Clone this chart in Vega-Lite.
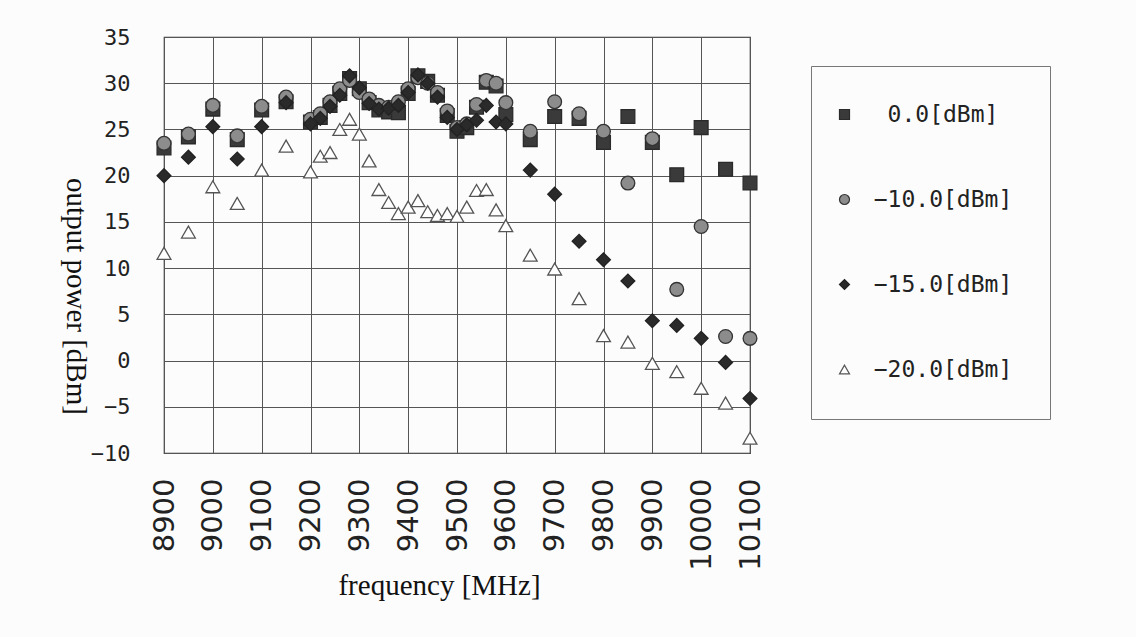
{
  "$schema": "https://vega.github.io/schema/vega-lite/v6.json",
  "width": 586,
  "height": 416,
  "autosize": {"type": "none"},
  "padding": {"left": 164, "top": 37, "right": 386, "bottom": 184},
  "background": "#fcfcfc",
  "data": {
    "values": [
      {"f": 8900, "p": 23.0, "s": "0.0[dBm]"},
      {"f": 8950, "p": 24.2, "s": "0.0[dBm]"},
      {"f": 9000, "p": 27.2, "s": "0.0[dBm]"},
      {"f": 9050, "p": 23.9, "s": "0.0[dBm]"},
      {"f": 9100, "p": 27.1, "s": "0.0[dBm]"},
      {"f": 9150, "p": 28.0, "s": "0.0[dBm]"},
      {"f": 9200, "p": 25.8, "s": "0.0[dBm]"},
      {"f": 9220, "p": 26.3, "s": "0.0[dBm]"},
      {"f": 9240, "p": 27.6, "s": "0.0[dBm]"},
      {"f": 9260, "p": 28.9, "s": "0.0[dBm]"},
      {"f": 9280, "p": 30.5, "s": "0.0[dBm]"},
      {"f": 9300, "p": 29.4, "s": "0.0[dBm]"},
      {"f": 9320, "p": 27.9, "s": "0.0[dBm]"},
      {"f": 9340, "p": 27.1, "s": "0.0[dBm]"},
      {"f": 9360, "p": 26.9, "s": "0.0[dBm]"},
      {"f": 9380, "p": 26.8, "s": "0.0[dBm]"},
      {"f": 9400, "p": 28.9, "s": "0.0[dBm]"},
      {"f": 9420, "p": 30.8, "s": "0.0[dBm]"},
      {"f": 9440, "p": 30.2, "s": "0.0[dBm]"},
      {"f": 9460, "p": 28.7, "s": "0.0[dBm]"},
      {"f": 9480, "p": 26.5, "s": "0.0[dBm]"},
      {"f": 9500, "p": 24.8, "s": "0.0[dBm]"},
      {"f": 9520, "p": 25.2, "s": "0.0[dBm]"},
      {"f": 9540, "p": 27.4, "s": "0.0[dBm]"},
      {"f": 9560, "p": 30.1, "s": "0.0[dBm]"},
      {"f": 9580, "p": 29.7, "s": "0.0[dBm]"},
      {"f": 9600, "p": 26.6, "s": "0.0[dBm]"},
      {"f": 9650, "p": 23.9, "s": "0.0[dBm]"},
      {"f": 9700, "p": 26.4, "s": "0.0[dBm]"},
      {"f": 9750, "p": 26.2, "s": "0.0[dBm]"},
      {"f": 9800, "p": 23.6, "s": "0.0[dBm]"},
      {"f": 9850, "p": 26.4, "s": "0.0[dBm]"},
      {"f": 9900, "p": 23.6, "s": "0.0[dBm]"},
      {"f": 9950, "p": 20.1, "s": "0.0[dBm]"},
      {"f": 10000, "p": 25.2, "s": "0.0[dBm]"},
      {"f": 10050, "p": 20.7, "s": "0.0[dBm]"},
      {"f": 10100, "p": 19.2, "s": "0.0[dBm]"},

      {"f": 8900, "p": 23.5, "s": "−10.0[dBm]"},
      {"f": 8950, "p": 24.5, "s": "−10.0[dBm]"},
      {"f": 9000, "p": 27.6, "s": "−10.0[dBm]"},
      {"f": 9050, "p": 24.3, "s": "−10.0[dBm]"},
      {"f": 9100, "p": 27.5, "s": "−10.0[dBm]"},
      {"f": 9150, "p": 28.5, "s": "−10.0[dBm]"},
      {"f": 9200, "p": 26.1, "s": "−10.0[dBm]"},
      {"f": 9220, "p": 26.7, "s": "−10.0[dBm]"},
      {"f": 9240, "p": 28.0, "s": "−10.0[dBm]"},
      {"f": 9260, "p": 29.4, "s": "−10.0[dBm]"},
      {"f": 9280, "p": 30.3, "s": "−10.0[dBm]"},
      {"f": 9300, "p": 29.0, "s": "−10.0[dBm]"},
      {"f": 9320, "p": 28.3, "s": "−10.0[dBm]"},
      {"f": 9340, "p": 27.6, "s": "−10.0[dBm]"},
      {"f": 9360, "p": 27.4, "s": "−10.0[dBm]"},
      {"f": 9380, "p": 28.0, "s": "−10.0[dBm]"},
      {"f": 9400, "p": 29.4, "s": "−10.0[dBm]"},
      {"f": 9420, "p": 30.6, "s": "−10.0[dBm]"},
      {"f": 9440, "p": 30.0, "s": "−10.0[dBm]"},
      {"f": 9460, "p": 29.0, "s": "−10.0[dBm]"},
      {"f": 9480, "p": 27.0, "s": "−10.0[dBm]"},
      {"f": 9500, "p": 25.2, "s": "−10.0[dBm]"},
      {"f": 9520, "p": 25.6, "s": "−10.0[dBm]"},
      {"f": 9540, "p": 27.7, "s": "−10.0[dBm]"},
      {"f": 9560, "p": 30.3, "s": "−10.0[dBm]"},
      {"f": 9580, "p": 30.0, "s": "−10.0[dBm]"},
      {"f": 9600, "p": 27.9, "s": "−10.0[dBm]"},
      {"f": 9650, "p": 24.8, "s": "−10.0[dBm]"},
      {"f": 9700, "p": 28.0, "s": "−10.0[dBm]"},
      {"f": 9750, "p": 26.7, "s": "−10.0[dBm]"},
      {"f": 9800, "p": 24.8, "s": "−10.0[dBm]"},
      {"f": 9850, "p": 19.2, "s": "−10.0[dBm]"},
      {"f": 9900, "p": 24.0, "s": "−10.0[dBm]"},
      {"f": 9950, "p": 7.7, "s": "−10.0[dBm]"},
      {"f": 10000, "p": 14.5, "s": "−10.0[dBm]"},
      {"f": 10050, "p": 2.6, "s": "−10.0[dBm]"},
      {"f": 10100, "p": 2.4, "s": "−10.0[dBm]"},

      {"f": 8900, "p": 20.0, "s": "−15.0[dBm]"},
      {"f": 8950, "p": 22.0, "s": "−15.0[dBm]"},
      {"f": 9000, "p": 25.3, "s": "−15.0[dBm]"},
      {"f": 9050, "p": 21.8, "s": "−15.0[dBm]"},
      {"f": 9100, "p": 25.3, "s": "−15.0[dBm]"},
      {"f": 9150, "p": 27.9, "s": "−15.0[dBm]"},
      {"f": 9200, "p": 25.6, "s": "−15.0[dBm]"},
      {"f": 9220, "p": 26.2, "s": "−15.0[dBm]"},
      {"f": 9240, "p": 27.5, "s": "−15.0[dBm]"},
      {"f": 9260, "p": 28.7, "s": "−15.0[dBm]"},
      {"f": 9280, "p": 30.8, "s": "−15.0[dBm]"},
      {"f": 9300, "p": 29.5, "s": "−15.0[dBm]"},
      {"f": 9320, "p": 27.8, "s": "−15.0[dBm]"},
      {"f": 9340, "p": 27.2, "s": "−15.0[dBm]"},
      {"f": 9360, "p": 27.3, "s": "−15.0[dBm]"},
      {"f": 9380, "p": 27.6, "s": "−15.0[dBm]"},
      {"f": 9400, "p": 29.0, "s": "−15.0[dBm]"},
      {"f": 9420, "p": 30.9, "s": "−15.0[dBm]"},
      {"f": 9440, "p": 30.0, "s": "−15.0[dBm]"},
      {"f": 9460, "p": 28.5, "s": "−15.0[dBm]"},
      {"f": 9480, "p": 26.3, "s": "−15.0[dBm]"},
      {"f": 9500, "p": 25.0, "s": "−15.0[dBm]"},
      {"f": 9520, "p": 25.5, "s": "−15.0[dBm]"},
      {"f": 9540, "p": 26.0, "s": "−15.0[dBm]"},
      {"f": 9560, "p": 27.6, "s": "−15.0[dBm]"},
      {"f": 9580, "p": 25.8, "s": "−15.0[dBm]"},
      {"f": 9600, "p": 25.6, "s": "−15.0[dBm]"},
      {"f": 9650, "p": 20.6, "s": "−15.0[dBm]"},
      {"f": 9700, "p": 18.0, "s": "−15.0[dBm]"},
      {"f": 9750, "p": 12.9, "s": "−15.0[dBm]"},
      {"f": 9800, "p": 10.9, "s": "−15.0[dBm]"},
      {"f": 9850, "p": 8.6, "s": "−15.0[dBm]"},
      {"f": 9900, "p": 4.3, "s": "−15.0[dBm]"},
      {"f": 9950, "p": 3.8, "s": "−15.0[dBm]"},
      {"f": 10000, "p": 2.4, "s": "−15.0[dBm]"},
      {"f": 10050, "p": -0.2, "s": "−15.0[dBm]"},
      {"f": 10100, "p": -4.1, "s": "−15.0[dBm]"},

      {"f": 8900, "p": 11.6, "s": "−20.0[dBm]"},
      {"f": 8950, "p": 13.9, "s": "−20.0[dBm]"},
      {"f": 9000, "p": 18.8, "s": "−20.0[dBm]"},
      {"f": 9050, "p": 17.0, "s": "−20.0[dBm]"},
      {"f": 9100, "p": 20.6, "s": "−20.0[dBm]"},
      {"f": 9150, "p": 23.2, "s": "−20.0[dBm]"},
      {"f": 9200, "p": 20.4, "s": "−20.0[dBm]"},
      {"f": 9220, "p": 22.1, "s": "−20.0[dBm]"},
      {"f": 9240, "p": 22.5, "s": "−20.0[dBm]"},
      {"f": 9260, "p": 25.0, "s": "−20.0[dBm]"},
      {"f": 9280, "p": 26.1, "s": "−20.0[dBm]"},
      {"f": 9300, "p": 24.5, "s": "−20.0[dBm]"},
      {"f": 9320, "p": 21.6, "s": "−20.0[dBm]"},
      {"f": 9340, "p": 18.5, "s": "−20.0[dBm]"},
      {"f": 9360, "p": 17.1, "s": "−20.0[dBm]"},
      {"f": 9380, "p": 15.9, "s": "−20.0[dBm]"},
      {"f": 9400, "p": 16.6, "s": "−20.0[dBm]"},
      {"f": 9420, "p": 17.3, "s": "−20.0[dBm]"},
      {"f": 9440, "p": 16.1, "s": "−20.0[dBm]"},
      {"f": 9460, "p": 15.7, "s": "−20.0[dBm]"},
      {"f": 9480, "p": 15.9, "s": "−20.0[dBm]"},
      {"f": 9500, "p": 15.6, "s": "−20.0[dBm]"},
      {"f": 9520, "p": 16.6, "s": "−20.0[dBm]"},
      {"f": 9540, "p": 18.4, "s": "−20.0[dBm]"},
      {"f": 9560, "p": 18.5, "s": "−20.0[dBm]"},
      {"f": 9580, "p": 16.3, "s": "−20.0[dBm]"},
      {"f": 9600, "p": 14.6, "s": "−20.0[dBm]"},
      {"f": 9650, "p": 11.4, "s": "−20.0[dBm]"},
      {"f": 9700, "p": 9.9, "s": "−20.0[dBm]"},
      {"f": 9750, "p": 6.7, "s": "−20.0[dBm]"},
      {"f": 9800, "p": 2.7, "s": "−20.0[dBm]"},
      {"f": 9850, "p": 2.0, "s": "−20.0[dBm]"},
      {"f": 9900, "p": -0.3, "s": "−20.0[dBm]"},
      {"f": 9950, "p": -1.2, "s": "−20.0[dBm]"},
      {"f": 10000, "p": -3.0, "s": "−20.0[dBm]"},
      {"f": 10050, "p": -4.6, "s": "−20.0[dBm]"},
      {"f": 10100, "p": -8.4, "s": "−20.0[dBm]"}
    ]
  },
  "mark": {"type": "point", "filled": true, "opacity": 1, "strokeWidth": 1.3, "size": 190},
  "encoding": {
    "x": {
      "field": "f", "type": "quantitative",
      "scale": {"domain": [8900, 10100], "nice": false, "zero": false},
      "axis": {
        "values": [8900, 9000, 9100, 9200, 9300, 9400, 9500, 9600, 9700, 9800, 9900, 10000, 10100],
        "format": "d", "labelAngle": -90, "labelFont": "DejaVu Sans", "labelFontSize": 29,
        "labelColor": "#222", "labelPadding": 25, "ticks": false, "tickSize": 0, "domain": false,
        "grid": true, "gridColor": "#555", "gridOpacity": 1, "gridWidth": 1,
        "title": "frequency [MHz]", "titleFont": "Liberation Serif", "titleFontSize": 29,
        "titleFontWeight": "normal", "titleColor": "#111", "titleX": 275, "titleY": 132,
        "titleBaseline": "middle", "titleAlign": "center", "labelOverlap": false
      }
    },
    "y": {
      "field": "p", "type": "quantitative",
      "scale": {"domain": [-10, 35], "nice": false, "zero": false},
      "axis": {
        "values": [-10, -5, 0, 5, 10, 15, 20, 25, 30, 35],
        "labelFont": "DejaVu Sans Mono", "labelFontSize": 22, "labelColor": "#222",
        "labelPadding": 34, "ticks": false, "tickSize": 0, "domain": false,
        "grid": true, "gridColor": "#555", "gridOpacity": 1, "gridWidth": 1,
        "title": "output power [dBm]", "titleFont": "Liberation Serif", "titleFontSize": 29,
        "titleFontWeight": "normal", "titleColor": "#111", "titleAngle": 90,
        "titleX": -89, "titleY": 259, "titleBaseline": "middle", "titleAlign": "center",
        "labelOverlap": false
      }
    },
    "shape": {
      "field": "s", "type": "nominal", "title": null,
      "scale": {"domain": ["0.0[dBm]", "−10.0[dBm]", "−15.0[dBm]", "−20.0[dBm]"], "range": ["square", "circle", "diamond", "triangle-up"]},
      "legend": {
        "orient": "none", "legendX": 647, "legendY": 29,
        "padding": 37, "strokeColor": "#777", "fillColor": "#fcfcfc",
        "labelFont": "DejaVu Sans Mono", "labelFontSize": 23, "labelColor": "#222",
        "labelAlign": "center", "labelOffset": 87, "symbolOffset": -15, "rowPadding": 61,
        "symbolSize": 100, "symbolStrokeWidth": 1.2, "labelLimit": 400
      }
    },
    "fill": {
      "field": "s", "type": "nominal", "title": null,
      "scale": {"domain": ["0.0[dBm]", "−10.0[dBm]", "−15.0[dBm]", "−20.0[dBm]"], "range": ["#3a3a3a", "#8c8c8c", "#2a2a2a", "#ffffff"]}
    },
    "stroke": {
      "field": "s", "type": "nominal", "title": null,
      "scale": {"domain": ["0.0[dBm]", "−10.0[dBm]", "−15.0[dBm]", "−20.0[dBm]"], "range": ["#2a2a2a", "#333333", "#222222", "#555555"]}
    }
  },
  "config": {
    "view": {"stroke": "#333", "strokeWidth": 1.2}
  }
}
